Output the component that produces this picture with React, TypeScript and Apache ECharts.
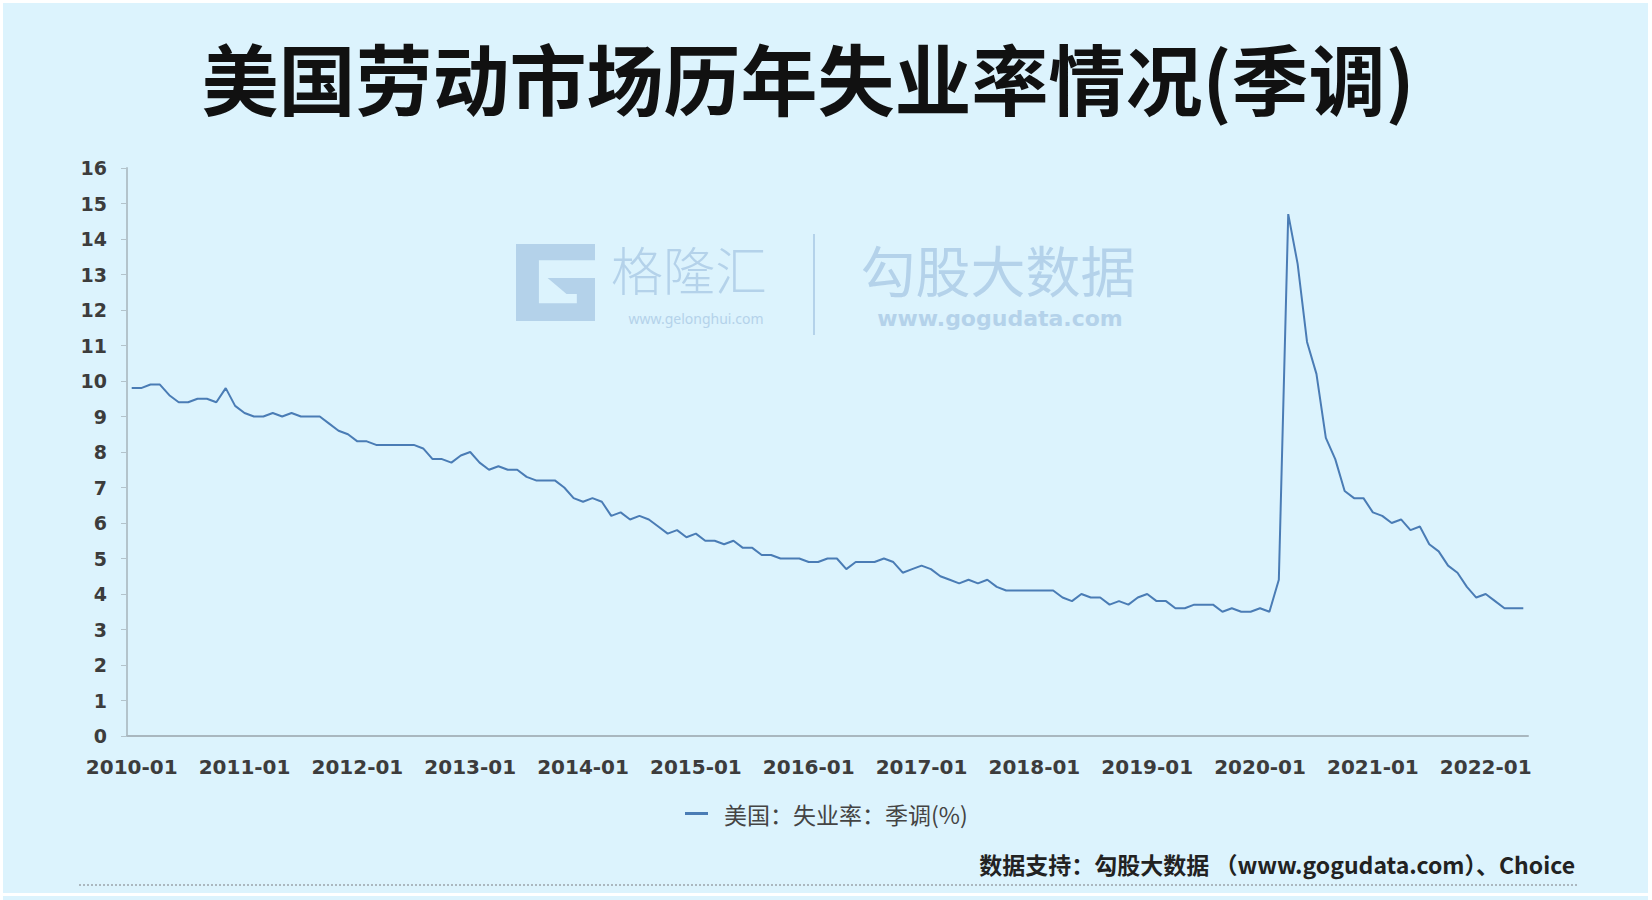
import React, { useEffect, useRef } from "react";
import * as echarts from "echarts";

const years = [2010, 2011, 2012, 2013, 2014, 2015, 2016, 2017, 2018, 2019, 2020, 2021, 2022];

const rate2010 = [9.8, 9.8, 9.9, 9.9, 9.6, 9.4, 9.4, 9.5, 9.5, 9.4, 9.8, 9.3];
const rate2011 = [9.1, 9.0, 9.0, 9.1, 9.0, 9.1, 9.0, 9.0, 9.0, 8.8, 8.6, 8.5];
const rate2012 = [8.3, 8.3, 8.2, 8.2, 8.2, 8.2, 8.2, 8.1, 7.8, 7.8, 7.7, 7.9];
const rate2013 = [8.0, 7.7, 7.5, 7.6, 7.5, 7.5, 7.3, 7.2, 7.2, 7.2, 7.0, 6.7];
const rate2014 = [6.6, 6.7, 6.6, 6.2, 6.3, 6.1, 6.2, 6.1, 5.9, 5.7, 5.8, 5.6];
const rate2015 = [5.7, 5.5, 5.5, 5.4, 5.5, 5.3, 5.3, 5.1, 5.1, 5.0, 5.0, 5.0];
const rate2016 = [4.9, 4.9, 5.0, 5.0, 4.7, 4.9, 4.9, 4.9, 5.0, 4.9, 4.6, 4.7];
const rate2017 = [4.8, 4.7, 4.5, 4.4, 4.3, 4.4, 4.3, 4.4, 4.2, 4.1, 4.1, 4.1];
const rate2018 = [4.1, 4.1, 4.1, 3.9, 3.8, 4.0, 3.9, 3.9, 3.7, 3.8, 3.7, 3.9];
const rate2019 = [4.0, 3.8, 3.8, 3.6, 3.6, 3.7, 3.7, 3.7, 3.5, 3.6, 3.5, 3.5];
const rate2020 = [3.6, 3.5, 4.4, 14.7, 13.3, 11.1, 10.2, 8.4, 7.8, 6.9, 6.7, 6.7];
const rate2021 = [6.3, 6.2, 6.0, 6.1, 5.8, 5.9, 5.4, 5.2, 4.8, 4.6, 4.2, 3.9];
const rate2022 = [4.0, 3.8, 3.6, 3.6, 3.6];

const yearlyRates = [
  rate2010, rate2011, rate2012, rate2013, rate2014, rate2015, rate2016,
  rate2017, rate2018, rate2019, rate2020, rate2021, rate2022,
];

const yTicks = [0, 16, 1];

const seriesName = "美国：失业率：季调(%)";
const titleText = "美国劳动市场历年失业率情况(季调)";
const sourceText = "数据支持：勾股大数据 （www.gogudata.com）、Choice";

const months: string[] = [];
const values: number[] = [];
yearlyRates.forEach((arr, yi) => {
  arr.forEach((v, mi) => {
    months.push(`${years[yi]}-${String(mi + 1).padStart(2, "0")}`);
    values.push(v);
  });
});

const WM = "#b4d2ea";

// G logo outline in a 0..1 unit box
const logoUnit: [number, number][] = [
  [0, 0], [1, 0], [1, 0.21], [0.29, 0.21], [0.29, 0.77], [0.77, 0.77],
  [0.77, 0.65], [0.64, 0.65], [0.40, 0.44], [1, 0.44], [1, 1], [0, 1],
];

export default function App() {
  const ref = useRef<HTMLDivElement>(null);
  useEffect(() => {
    if (!ref.current) return;
    const chart = echarts.init(ref.current, undefined, { renderer: "svg" });
    const lx = 516, ly = 244, lw = 79, lh = 77;
    chart.setOption({
      animation: false,
      backgroundColor: "#ffffff",
      grid: { left: 127, right: 124, top: 168, bottom: 164 },
      graphic: [
        { type: "rect", z: -10, silent: true, shape: { x: 3, y: 3, width: 1645, height: 890 }, style: { fill: "#dcf3fd" } },
        { type: "rect", z: -10, silent: true, shape: { x: 3, y: 896, width: 1645, height: 4 }, style: { fill: "#dcf3fd" } },
        {
          type: "polygon", z: -5, silent: true,
          shape: { points: logoUnit.map(([a, b]) => [lx + a * lw, ly + b * lh]) },
          style: { fill: WM },
        },
        { type: "text", z: -5, silent: true, x: 611, y: 268, style: { text: "格隆汇", fill: WM, fontSize: 52, lineHeight: 52, fontFamily: "Noto Sans CJK SC", fontWeight: 300, textAlign: "left", textVerticalAlign: "middle" } },
        { type: "text", z: -5, silent: true, x: 696, y: 318, style: { text: "www.gelonghui.com", fill: WM, fontSize: 14, lineHeight: 14, fontFamily: "Noto Sans", textAlign: "center", textVerticalAlign: "middle" } },
        { type: "rect", z: -5, silent: true, shape: { x: 813, y: 234, width: 2, height: 101 }, style: { fill: WM } },
        { type: "text", z: -5, silent: true, x: 998, y: 268, style: { text: "勾股大数据", fill: WM, fontSize: 55, lineHeight: 55, fontFamily: "Noto Sans CJK SC", fontWeight: 400, textAlign: "center", textVerticalAlign: "middle" } },
        { type: "text", z: -5, silent: true, x: 1000, y: 318, style: { text: "www.gogudata.com", fill: WM, fontSize: 22, lineHeight: 22, fontFamily: "DejaVu Sans", fontWeight: "bold", textAlign: "center", textVerticalAlign: "middle" } },
        { type: "text", x: 808, y: 76, style: { text: titleText, fill: "#111111", fontSize: 77, fontFamily: "Noto Sans CJK SC", fontWeight: "bold", textAlign: "center", textVerticalAlign: "middle" } },
        { type: "text", x: 1575, y: 864, style: { text: sourceText, fill: "#222222", fontSize: 23, fontFamily: "Noto Sans CJK SC", fontWeight: "bold", textAlign: "right", textVerticalAlign: "middle" } },
        { type: "line", shape: { x1: 79, y1: 885, x2: 1577, y2: 885 }, style: { stroke: "#9aa4aa", lineWidth: 1.5, lineDash: [2, 2] } },
      ],
      legend: {
        data: [seriesName],
        left: 680,
        top: 797,
        icon: "rect",
        itemWidth: 23,
        itemHeight: 3,
        textStyle: { fontSize: 23, color: "#444444", fontFamily: "Noto Sans CJK SC", padding: [0, 0, 0, 11] },
      },
      xAxis: {
        type: "category",
        data: months,
        boundaryGap: true,
        axisLine: { lineStyle: { color: "#a9b7bf", width: 2 } },
        axisTick: { interval: 11, alignWithLabel: true, length: 5, lineStyle: { color: "#a9b7bf" } },
        axisLabel: { interval: 11, margin: 21, fontSize: 20, fontWeight: "bold", color: "#3c3c3c", fontFamily: "DejaVu Sans" },
        splitLine: { show: false },
      },
      yAxis: {
        type: "value",
        min: yTicks[0],
        max: yTicks[1],
        interval: yTicks[2],
        axisLine: { show: true, lineStyle: { color: "#b3c3cb", width: 2 } },
        axisTick: { show: true, length: 6, lineStyle: { color: "#b3c3cb" } },
        axisLabel: { margin: 20, fontSize: 19, fontWeight: "bold", color: "#3c3c3c", fontFamily: "DejaVu Sans" },
        splitLine: { show: false },
      },
      series: [
        {
          name: seriesName,
          type: "line",
          data: values,
          symbol: "none",
          lineStyle: { color: "#4a7cb5", width: 2 },
          itemStyle: { color: "#4a7cb5" },
        },
      ],
    });
    return () => chart.dispose();
  }, []);
  return (
    <div
      ref={ref}
      style={{ position: "absolute", left: 0, top: 0, width: 1652, height: 900 }}
    />
  );
}
